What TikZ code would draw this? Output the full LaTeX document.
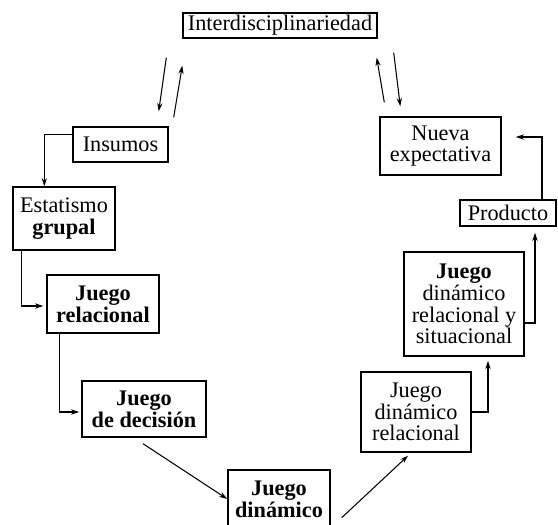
\documentclass[tikz,border=0pt]{standalone}
\usepackage{fontspec}
\setmainfont{Liberation Serif}
\usetikzlibrary{arrows.meta, positioning, calc}

\begin{document}
\begin{tikzpicture}[
  x=0.03cm, y=-0.03cm,
  >={Stealth[length=7pt, width=4.5pt]},
  every node/.style = {font=\fontsize{19}{18.5}\selectfont},
  %-- block styles -------------------------------------------------------
  stagebox/.style = {draw, line width=1.2pt, align=center, inner sep=1.5pt},
  gamebox/.style  = {stagebox, font=\fontsize{19}{18.5}\selectfont\bfseries},
  arrow/.style    = {->, line width=0.9pt},
]
\useasboundingbox (0,0) rectangle (558,524);

% ── Top and entry boxes ───────────────────────────────────────────────────────
\node[stagebox, minimum width=5.82cm, minimum height=0.75cm] (inter) at (280,25.5)
  {Interdisciplinariedad};
\node[stagebox, minimum width=2.85cm, minimum height=1.05cm] (insumos) at (120.5,144.5)
  {Insumos};
\node[stagebox, minimum width=3.06cm, minimum height=1.89cm] (estat) at (64,218.5)
  {Estatismo\\\textbf{grupal}};

% ── Left branch (descending) ──────────────────────────────────────────────────
\node[gamebox, minimum width=3.36cm, minimum height=1.74cm] (jrel) at (103,304)
  {Juego\\relacional};
\node[gamebox, minimum width=3.72cm, minimum height=1.68cm] (jdec) at (144,409)
  {Juego\\de decisión};
\node[gamebox, minimum width=3.06cm, minimum height=1.74cm] (jdin) at (279,499)
  {Juego\\dinámico};

% ── Right branch (ascending) ──────────────────────────────────────────────────
\node[stagebox, minimum width=3.30cm, minimum height=2.40cm] (jdr) at (416,412)
  {Juego\\dinámico\\relacional};
\node[stagebox, minimum width=3.60cm, minimum height=3.12cm] (jdrs) at (464,304)
  {\textbf{Juego}\\dinámico\\relacional y\\situacional};
\node[stagebox, minimum width=2.88cm, minimum height=0.78cm] (prod) at (508,213)
  {Producto};
\node[stagebox, minimum width=3.63cm, minimum height=1.74cm] (nueva) at (440.5,146)
  {Nueva\\expectativa};

% ── Exchange with Interdisciplinariedad ───────────────────────────────────────
\draw[arrow] ($(inter.south west)+(-16,19)$) -- ($(insumos.north east)+(-10,-15)$);
\draw[arrow] ($(insumos.north east)+(5,-9)$) -- ($(inter.south west)+(0,27)$);
\draw[arrow] ($(nueva.north west)+(5,-14)$)  -- ($(inter.south east)+(-1,19)$);
\draw[arrow] ($(inter.south east)+(16,14)$)  -- ($(nueva.north west)+(21,-10)$);

% ── Down the left side ───────────────────────────────────────────────────────
\draw[arrow] ($(insumos.north west)+(0,8)$) -| ($(estat.north west)+(32,0)$);
\draw[arrow] ($(estat.south west)+(9,0)$) |- ($(jrel.west)+(-3,2)$);
\draw[arrow] ($(jrel.south west)+(13,0)$) |- ($(jdec.west)+(-2,3)$);
\draw[arrow] ($(jdec.south)+(-1,6)$) -- (jdin.west);

% ── Up the right side ────────────────────────────────────────────────────────
\draw[arrow] ($(jdin.south east)+(11,-11)$) -- ($(jdr.south)+(-8,3)$);
\draw[arrow] (jdr.east) -| ($(jdrs.south)+(24,4)$);
\draw[arrow] ($(jdrs.east)+(0,19)$) -| ($(prod.south)+(27,6)$);
\draw[arrow] ($(prod.north)+(34,0)$) |- ($(nueva.east)+(14,-9)$);

\end{tikzpicture}
\end{document}
